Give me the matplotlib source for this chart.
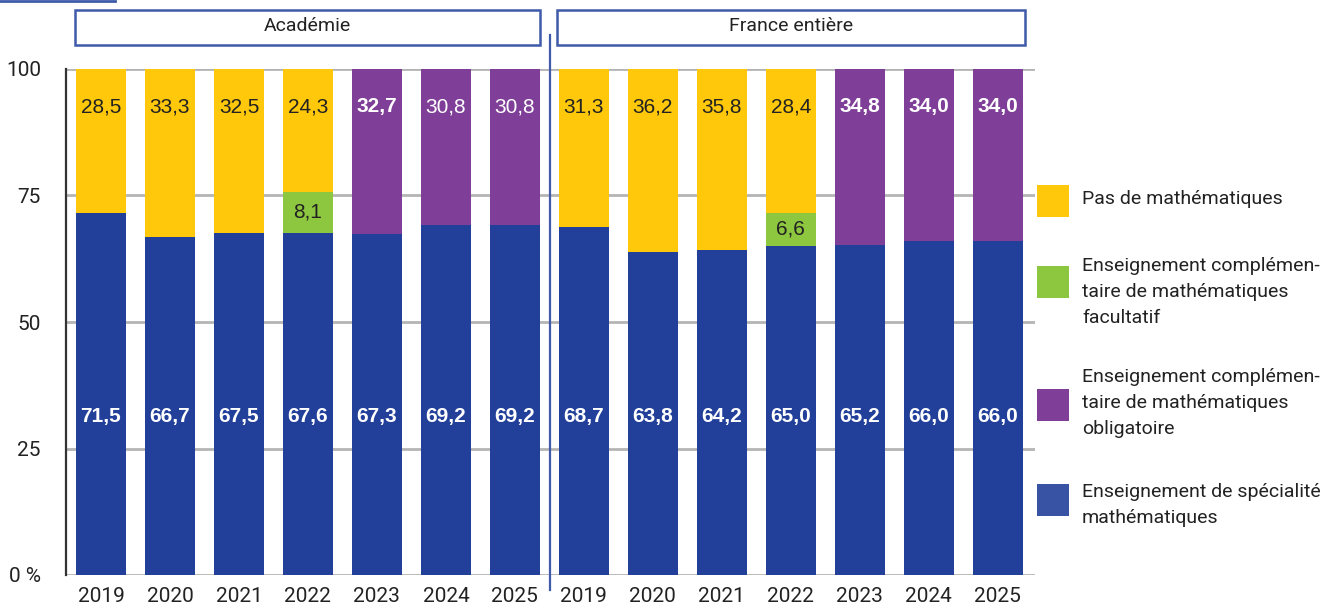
import numpy as np
import matplotlib.pyplot as plt
from matplotlib.patches import Rectangle
from matplotlib.lines import Line2D

# données (Académie puis France entière)
groupes = ['Académie', 'France entière']
annees = ['2019', '2020', '2021', '2022', '2023', '2024', '2025']

specialite = [71.5, 66.7, 67.5, 67.6, 67.3, 69.2, 69.2,
              68.7, 63.8, 64.2, 65.0, 65.2, 66.0, 66.0]
facultatif = [0, 0, 0, 8.1, 0, 0, 0,
              0, 0, 0, 6.6, 0, 0, 0]
obligatoire = [0, 0, 0, 0, 32.7, 30.8, 30.8,
               0, 0, 0, 0, 34.8, 34.0, 34.0]
pas_maths = [28.5, 33.3, 32.5, 24.3, 0, 0, 0,
             31.3, 36.2, 35.8, 28.4, 0, 0, 0]

libelles = ['Pas de mathématiques',
            'Enseignement complémen-\ntaire de mathématiques\nfacultatif',
            'Enseignement complémen-\ntaire de mathématiques\nobligatoire',
            'Enseignement de spécialité\nmathématiques']

JAUNE = '#ffc80a'
VERT = '#8dc63f'
VIOLET = '#7f3f98'
BLEU = '#22409a'
CADRE = '#3e5ba9'

W, H = 1333, 604
fig = plt.figure(figsize=(W / 100, H / 100), dpi=100)
ax = fig.add_axes([66 / W, 29 / H, (1035 - 66) / W, (575 - 69) / H])

x = np.arange(len(specialite))
larg = 0.725
spec = np.array(specialite)
fac = np.array(facultatif)
obl = np.array(obligatoire)
pas = np.array(pas_maths)

ax.bar(x, spec, larg, color=BLEU, zorder=2)
ax.bar(x, fac, larg, bottom=spec, color=VERT, zorder=2)
ax.bar(x, obl, larg, bottom=spec + fac, color=VIOLET, zorder=2)
ax.bar(x, pas, larg, bottom=spec + fac + obl, color=JAUNE, zorder=2)

police_val = 'Liberation Sans'
for i in x:
    ax.text(i, 31.4, f'{spec[i]:.1f}'.replace('.', ','), ha='center', va='center',
            color='white', fontsize=15, family=police_val, fontweight='bold', zorder=3)
    if fac[i] > 0:
        ax.text(i, spec[i] + fac[i] / 2, f'{fac[i]:.1f}'.replace('.', ','), ha='center',
                va='center', color='#222222', fontsize=15, family=police_val, zorder=3)
    if pas[i] > 0:
        ax.text(i, 92.5, f'{pas[i]:.1f}'.replace('.', ','), ha='center', va='center',
                color='#222222', fontsize=15, family=police_val, zorder=3)
    if obl[i] > 0:
        gras = 'normal' if i in (5, 6) else 'bold'
        ax.text(i, 92.5, f'{obl[i]:.1f}'.replace('.', ','), ha='center', va='center',
                color='white', fontsize=15, family=police_val, fontweight=gras, zorder=3)

ax.set_xlim(-0.507, 13.54)
ax.set_ylim(0, 100)
ax.set_yticks([0, 25, 50, 75, 100])
ax.set_yticklabels(['0 %', '25', '50', '75', '100'], family='Roboto', fontsize=15, color='#222222')
ax.set_xticks(x)
ax.set_xticklabels(annees * 2, family='Roboto', fontsize=15, color='#222222')
ax.tick_params(axis='both', length=0)
ax.tick_params(axis='y', pad=18)
ax.tick_params(axis='x', pad=9)
ax.yaxis.grid(True, color='#b4b4b4', lw=2, zorder=1)
ax.set_axisbelow(True)
for s in ['top', 'right', 'bottom']:
    ax.spines[s].set_visible(False)
ax.spines['left'].set_color('#333333')
ax.spines['left'].set_linewidth(1.6)
ax.spines['left'].set_zorder(4)

# séparateur vertical entre les deux groupes
fig.add_artist(Line2D([550 / W, 550 / W], [1 - 35 / H, 1 - 590 / H], color=CADRE, lw=1.6))

# cadres des titres de groupe
for (x0, x1), nom in zip([(75, 540), (557, 1025)], groupes):
    fig.add_artist(Rectangle((x0 / W, 1 - 45 / H), (x1 - x0) / W, 35 / H,
                             facecolor='white', edgecolor=CADRE, lw=1.8))
    fig.text((x0 + x1) / 2 / W, 1 - 26 / H, nom, ha='center', va='center',
             family='Roboto', fontsize=14, color='#222222')

# petit trait en haut à gauche
fig.add_artist(Line2D([0, 115 / W], [1 - 1 / H, 1 - 1 / H], color=CADRE, lw=2))

# légende
couleurs_leg = [JAUNE, VERT, VIOLET, '#3953a4']
centres_carre = [201, 282, 405, 500]
centres_texte = [199, 292, 403, 505]
for c, yc, yt, lab in zip(couleurs_leg, centres_carre, centres_texte, libelles):
    fig.add_artist(Rectangle((1037 / W, 1 - (yc + 16) / H), 32 / W, 32 / H,
                             facecolor=c, edgecolor='none'))
    fig.text(1082 / W, 1 - yt / H, lab, ha='left', va='center', family='Roboto',
             fontsize=14, color='#222222', linespacing=1.6)

fig.savefig('out.png', dpi=100)
